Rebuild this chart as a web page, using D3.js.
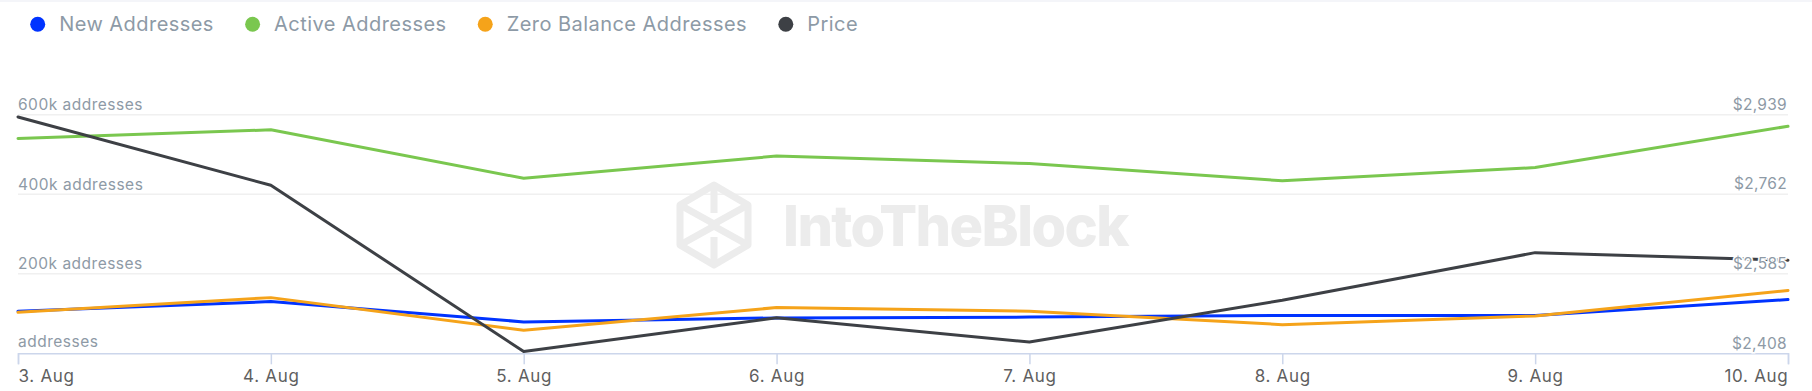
<!DOCTYPE html>
<html>
<head>
<meta charset="utf-8">
<script src="https://cdn.jsdelivr.net/npm/d3@7/dist/d3.min.js"></script>
<style>
  html, body { margin: 0; padding: 0; background: #ffffff; }
  svg { display: block; }
  text { font-family: Inter, "Noto Sans", sans-serif; }
</style>
</head>
<body>
<svg id="chart" width="1812" height="391"></svg>
<script>
// ---- Data ----
const dates = ["2024-08-03", "2024-08-04", "2024-08-05", "2024-08-06", "2024-08-07", "2024-08-08", "2024-08-09", "2024-08-10"];
const newAddresses      = [106000, 130000, 79000, 89000, 91000, 95000, 95000, 135000];
const activeAddresses   = [540000, 562000, 440000, 496000, 477000, 434000, 467000, 571000];
const zeroBalance       = [103000, 140000, 58000, 115000, 106000, 72000, 94000, 158000];
const price             = [2934, 2782, 2412, 2487, 2433, 2526, 2632, 2615];
const leftTicks  = [0, 200000, 400000, 600000];
const leftTickLabels = ["addresses", "200k addresses", "400k addresses", "600k addresses"];
const rightTicks = [2408, 2585, 2762, 2939];
const rightTickLabels = ["$2,408", "$2,585", "$2,762", "$2,939"];
const seriesNames = ["New Addresses", "Active Addresses", "Zero Balance Addresses", "Price"];
const seriesColors = ["#0033ff", "#7ac74f", "#f5a31a", "#3d4045"];

// ---- Layout ----
const svg = d3.select("#chart");
const W = 1812, H = 391;
const plotLeft = 18, plotRight = 1788, plotTop = 114.7, plotBottom = 353.3;

const parse = d3.utcParse("%Y-%m-%d");
const dateVals = dates.map(parse);

const x = d3.scaleUtc().domain(d3.extent(dateVals)).range([plotLeft, plotRight]);
const yL = d3.scaleLinear().domain([0, 600000]).range([plotBottom, plotTop]);
const yR = d3.scaleLinear().domain([2408, 2939]).range([plotBottom, plotTop]);

// top band
svg.append("rect").attr("x", 0).attr("y", 0).attr("width", W).attr("height", 2).attr("fill", "#f4f5f9");

// gridlines
svg.append("g").selectAll("line").data(leftTicks.filter(d => d !== 0)).join("line")
  .attr("x1", plotLeft).attr("x2", plotRight)
  .attr("y1", d => yL(d)).attr("y2", d => yL(d))
  .attr("stroke", "#f0f0f0").attr("stroke-width", 1.5);

// watermark
const wm = svg.append("g").attr("fill", "none").attr("stroke", "#ececec").attr("stroke-width", 7).attr("stroke-linejoin", "round");
const cx = 714, cy = 225;
wm.append("path").attr("d", `M${cx},${cy-40} L${cx+34},${cy-20} L${cx+34},${cy+20} L${cx},${cy+40} L${cx-34},${cy+20} L${cx-34},${cy-20} Z`);
wm.append("path").attr("d", `M${cx-34},${cy-20} L${cx+2},${cy} L${cx-34},${cy+20}`);
wm.append("path").attr("d", `M${cx+34},${cy-20} L${cx-2},${cy} L${cx+34},${cy+20}`);
wm.append("path").attr("d", `M${cx},${cy-40} L${cx},${cy-12} M${cx},${cy+12} L${cx},${cy+40}`);
svg.append("text").attr("x", 783).attr("y", 246)
  .attr("font-size", 56).attr("font-weight", 800).attr("fill", "#ececec")
  .attr("letter-spacing", -1.6)
  .text("IntoTheBlock");

// x axis line & ticks
const xAxis = d3.axisBottom(x).tickValues(dateVals).tickSize(11).tickFormat(d3.utcFormat("%-d. %b"));
const gx = svg.append("g").attr("transform", `translate(0,${plotBottom})`).call(xAxis);
gx.select(".domain").attr("stroke", "#ccd6eb").attr("stroke-width", 1.5);
gx.selectAll(".tick line").attr("stroke", "#ccd6eb").attr("stroke-width", 1.5);
gx.selectAll(".tick text")
  .attr("y", 28.5).attr("dy", 0)
  .attr("font-size", 17).attr("fill", "#5f5f5f")
  .attr("letter-spacing", 0.7)
  .attr("font-family", "Inter, sans-serif")
  .attr("text-anchor", (d, i) => i === 0 ? "start" : (i === dateVals.length - 1 ? "end" : "middle"));

// lines
const seriesData = [newAddresses, activeAddresses, zeroBalance];
seriesData.forEach((vals, si) => {
  const line = d3.line().x((d, i) => x(dateVals[i])).y(d => yL(d));
  svg.append("path").datum(vals).attr("d", line)
    .attr("fill", "none").attr("stroke", seriesColors[si]).attr("stroke-width", 3)
    .attr("stroke-linejoin", "round").attr("stroke-linecap", "round");
});
const priceLine = d3.line().x((d, i) => x(dateVals[i])).y(d => yR(d));
svg.append("path").datum(price).attr("d", priceLine)
  .attr("fill", "none").attr("stroke", seriesColors[3]).attr("stroke-width", 3)
  .attr("stroke-linejoin", "round").attr("stroke-linecap", "round");

// left axis labels
svg.append("g").selectAll("text").data(leftTicks).join("text")
  .attr("x", plotLeft).attr("y", d => yL(d) - (d === 0 ? 6 : 4.3))
  .attr("font-size", 15.5).attr("fill", "#8e9aa6")
  .attr("letter-spacing", 0.5)
  .text((d, i) => leftTickLabels[i]);

// right axis labels (with white halo)
svg.append("g").selectAll("text").data(rightTicks).join("text")
  .attr("x", plotRight - 1).attr("y", (d, i) => yR(d) - (i === 0 ? 4.3 : 4.8))
  .attr("text-anchor", "end")
  .attr("font-size", 15.5).attr("fill", "#8e9aa6")
  .attr("letter-spacing", 0.3)
  .attr("stroke", "#ffffff").attr("stroke-width", 3).attr("paint-order", "stroke")
  .text((d, i) => rightTickLabels[i]);

// legend
const lg = svg.append("g");
let lx = 37.7;
seriesNames.forEach((name, i) => {
  lg.append("circle").attr("cx", lx).attr("cy", 24.3).attr("r", 7.5).attr("fill", seriesColors[i]);
  const t = lg.append("text").attr("x", lx + 21.5).attr("y", 30.5)
    .attr("font-size", 20).attr("fill", "#8d9aa6")
    .attr("letter-spacing", 0.45).text(name);
  const w = t.node().getComputedTextLength();
  lx = lx + 21.5 + w + 38.7;
});
</script>
</body>
</html>
